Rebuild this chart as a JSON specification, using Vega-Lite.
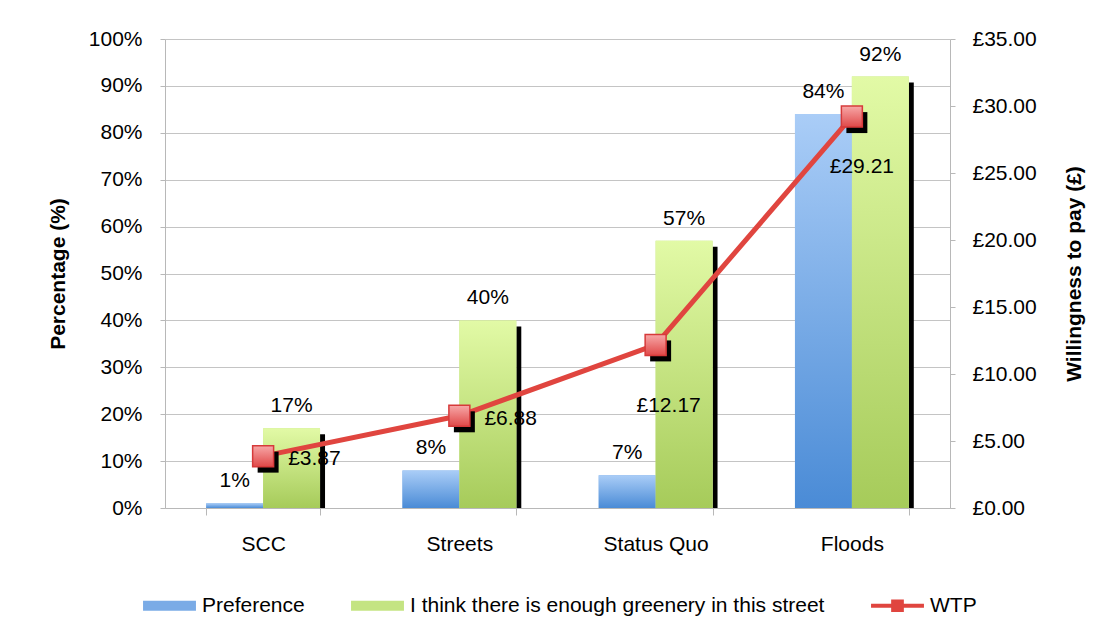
{
  "$schema": "https://vega.github.io/schema/vega-lite/v6.json",
  "width": 785,
  "height": 469,
  "autosize": {"type": "none"},
  "padding": {"left": 165, "top": 39, "right": 161, "bottom": 125},
  "background": "white",
  "config": {
    "font": "Liberation Sans",
    "locale": {"number": {"decimal": ".", "thousands": ",", "grouping": [3], "currency": ["£", ""]}},
    "view": {"stroke": null},
    "axis": {
      "labelFont": "Liberation Sans", "labelFontSize": 21, "labelColor": "#000",
      "titleFont": "Liberation Sans", "titleFontSize": 21, "titleColor": "#000", "titleFontWeight": "bold",
      "domainColor": "#b8b8b8", "tickColor": "#b8b8b8", "gridColor": "#c4c4c4",
      "domainWidth": 1, "tickWidth": 1, "gridWidth": 1
    }
  },
  "datasets": {
    "bars": [
      {"category": "SCC", "series": "Preference", "pct": 0.01},
      {"category": "SCC", "series": "I think there is enough greenery in this street", "pct": 0.17},
      {"category": "Streets", "series": "Preference", "pct": 0.08},
      {"category": "Streets", "series": "I think there is enough greenery in this street", "pct": 0.40},
      {"category": "Status Quo", "series": "Preference", "pct": 0.07},
      {"category": "Status Quo", "series": "I think there is enough greenery in this street", "pct": 0.57},
      {"category": "Floods", "series": "Preference", "pct": 0.84},
      {"category": "Floods", "series": "I think there is enough greenery in this street", "pct": 0.92}
    ],
    "wtp": [
      {"category": "SCC", "wtp": 3.87},
      {"category": "Streets", "wtp": 6.88},
      {"category": "Status Quo", "wtp": 12.17},
      {"category": "Floods", "wtp": 29.21}
    ]
  },
  "layer": [
    {
      "data": {"name": "bars"},
      "encoding": {
        "x": {
          "field": "category", "type": "nominal",
          "sort": ["SCC", "Streets", "Status Quo", "Floods"],
          "scale": {"paddingInner": 0.42, "paddingOuter": 0.21},
          "axis": {"title": null, "labelAngle": 0, "tickBand": "extent", "tickSize": 7, "labelPadding": 18, "grid": false}
        },
        "xOffset": {
          "field": "series", "type": "nominal",
          "sort": ["Preference", "I think there is enough greenery in this street"],
          "scale": {"paddingInner": 0, "paddingOuter": 0}
        },
        "y": {
          "field": "pct", "type": "quantitative",
          "scale": {"domain": [0, 1], "nice": false},
          "axis": {
            "orient": "left", "title": "Percentage (%)", "format": ".0%",
            "values": [0, 0.1, 0.2, 0.3, 0.4, 0.5, 0.6, 0.7, 0.8, 0.9, 1],
            "grid": true, "tickSize": 5, "labelPadding": 18, "titlePadding": 20
          }
        }
      },
      "layer": [
        {
          "transform": [{"filter": "datum.series !== 'Preference'"}],
          "mark": {"type": "rule", "color": "#000", "strokeWidth": 5, "xOffset": 2.5, "yOffset": 6},
          "encoding": {
            "x": {"field": "category", "type": "nominal", "bandPosition": 1, "sort": ["SCC", "Streets", "Status Quo", "Floods"]},
            "xOffset": null,
            "y2": {"datum": 0}
          }
        },
        {
          "mark": {"type": "bar"},
          "encoding": {
            "color": {
              "field": "series", "type": "nominal",
              "scale": {
                "domain": ["Preference", "I think there is enough greenery in this street", "WTP"],
                "range": ["#7aabe6", "#c4e482", "#e0453f"]
              },
              "legend": {
                "orient": "none", "legendX": -22, "legendY": 540, "direction": "horizontal",
                "title": null, "labelFontSize": 21, "labelColor": "#000", "labelFont": "Liberation Sans",
                "labelLimit": 600,
                "symbolSize": 2800, "labelOffset": 6, "columnPadding": 46, "padding": 0,
                "symbolStrokeWidth": 0, "symbolOpacity": 1,
                "encode": {
                  "symbols": {
                    "update": {
                      "shape": {"signal": "datum.value === 'WTP' ? 'M-1,-0.08H1V0.08H-1Z M-0.24,-0.24H0.24V0.24H-0.24Z' : 'M-1,-0.19H1V0.19H-1Z'"},
                      "fill": {"signal": "datum.value === 'WTP' ? '#e0453f' : (datum.value === 'Preference' ? {gradient: 'linear', x1: 0, y1: 0, x2: 0, y2: 1, stops: [{offset: 0, color: '#aacdf7'}, {offset: 1, color: '#4a8bd6'}]} : {gradient: 'linear', x1: 0, y1: 0, x2: 0, y2: 1, stops: [{offset: 0, color: '#e2faa6'}, {offset: 1, color: '#a6cb5a'}]})"}
                    }
                  }
                }
              }
            }
          }
        },
        {
          "transform": [{"filter": "datum.series === 'Preference'"}],
          "mark": {"type": "bar", "fill": {"gradient": "linear", "x1": 0, "y1": 0, "x2": 0, "y2": 1, "stops": [{"offset": 0, "color": "#aacdf7"}, {"offset": 1, "color": "#4a8bd6"}]}}
        },
        {
          "transform": [{"filter": "datum.series !== 'Preference'"}],
          "mark": {"type": "bar", "fill": {"gradient": "linear", "x1": 0, "y1": 0, "x2": 0, "y2": 1, "stops": [{"offset": 0, "color": "#e2faa6"}, {"offset": 1, "color": "#a6cb5a"}]}}
        },
        {
          "mark": {"type": "text", "fontSize": 21, "baseline": "middle", "dy": -22, "color": "#000"},
          "encoding": {
            "text": {"field": "pct", "type": "quantitative", "format": ".0%"}
          }
        }
      ]
    },
    {
      "data": {"name": "wtp"},
      "encoding": {
        "x": {"field": "category", "type": "nominal", "sort": ["SCC", "Streets", "Status Quo", "Floods"]},
        "y": {
          "field": "wtp", "type": "quantitative",
          "scale": {"domain": [0, 35], "nice": false},
          "axis": {
            "orient": "right", "title": "Willingness to pay (£)", "format": "$.2f",
            "values": [0, 5, 10, 15, 20, 25, 30, 35],
            "grid": false, "tickSize": 5, "labelPadding": 17, "titlePadding": 27,
            "titleAngle": 270, "titleBaseline": "top"
          }
        }
      },
      "layer": [
        {"mark": {"type": "line", "color": "#e0453f", "strokeWidth": 5}},
        {"mark": {"type": "point", "shape": "square", "size": 440, "filled": true, "fill": "#000", "opacity": 1, "xOffset": 5, "yOffset": 6}},
        {"mark": {"type": "point", "shape": "square", "size": 440, "filled": true, "opacity": 1,
          "fill": {"gradient": "linear", "x1": 0, "y1": 0, "x2": 0, "y2": 1, "stops": [{"offset": 0, "color": "#f7a8a8"}, {"offset": 1, "color": "#e04848"}]},
          "stroke": "#d63a3a", "strokeWidth": 1.5}},
        {
          "transform": [{"filter": "datum.category === 'SCC' || datum.category === 'Streets'"}],
          "mark": {"type": "text", "fontSize": 21, "align": "left", "baseline": "middle", "dx": 25, "dy": 3, "color": "#000"},
          "encoding": {"text": {"field": "wtp", "type": "quantitative", "format": "$.2f"}}
        },
        {
          "transform": [{"filter": "datum.category === 'Status Quo'"}],
          "mark": {"type": "text", "fontSize": 21, "align": "center", "baseline": "middle", "dx": 13, "dy": 61, "color": "#000"},
          "encoding": {"text": {"field": "wtp", "type": "quantitative", "format": "$.2f"}}
        },
        {
          "transform": [{"filter": "datum.category === 'Floods'"}],
          "mark": {"type": "text", "fontSize": 21, "align": "center", "baseline": "middle", "dx": 10, "dy": 50, "color": "#000"},
          "encoding": {"text": {"field": "wtp", "type": "quantitative", "format": "$.2f"}}
        }
      ]
    }
  ],
  "resolve": {"scale": {"y": "independent"}, "axis": {"y": "independent"}}
}
